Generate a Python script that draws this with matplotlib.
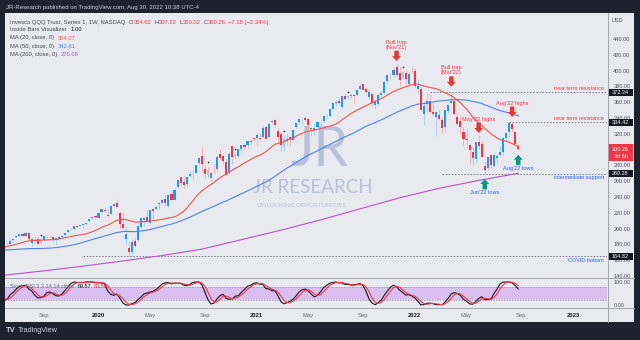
import numpy as np
import pandas as pd
import matplotlib
matplotlib.use("Agg")
import matplotlib.pyplot as plt
import matplotlib.dates as mdates
from matplotlib import transforms
from matplotlib.patches import Rectangle
from matplotlib.lines import Line2D

plt.rcParams["font.family"] = ["Liberation Sans", "DejaVu Sans"]

# weekly QQQ bars, first bar = week of 2019-06-03, last = week of 2022-08-29
first_week = "2019-06-03"
opens = [
    172.6, 181.0, 180.5, 185.0, 189.0, 190.2, 193.6, 191.0, 194.5, 181.4,
    184.7, 187.0, 182.1, 185.0, 190.4, 190.2, 190.0, 187.4, 187.0, 189.6,
    191.3, 195.1, 198.9, 199.2, 203.3, 203.2, 204.6, 205.6, 209.0, 212.9,
    215.7,
    213.0, 220.9, 224.1, 216.8, 218.7, 228.5, 233.0, 220.0, 206.3, 187.0,
    175.4, 170.6, 183.8, 185.3, 202.4, 211.4, 215.1, 207.7, 224.8, 225.3,
    231.6, 231.8, 237.3, 228.6, 243.6, 236.3, 252.8, 264.8, 259.2, 256.6,
    266.3, 269.8, 271.0, 283.0, 291.5, 276.0, 273.7, 264.0, 273.7, 275.5,
    294.3, 291.6, 283.7, 271.5, 304.7, 292.6, 292.4, 301.1, 305.3, 305.6,
    310.0, 314.4,
    315.1, 314.4, 316.1, 329.0, 316.0, 334.4, 337.0, 323.0, 320.3, 302.7,
    311.0, 315.4, 312.4, 328.5, 335.5, 338.5, 339.9, 339.3, 327.3, 325.2,
    329.0, 335.6, 336.0, 342.2, 342.5, 351.4, 359.5, 361.0, 353.4, 367.7,
    366.4, 368.0, 369.2, 369.2, 377.0, 382.6, 377.3, 366.0, 371.0, 357.0,
    358.0, 368.7, 372.0, 387.0, 394.5, 394.5, 404.0, 397.5, 390.4, 397.0,
    382.6, 398.5,
    400.0, 376.1, 377.0, 345.0, 357.6, 361.0, 347.0, 341.5, 343.5, 338.0,
    328.7, 349.2, 359.2, 361.0, 341.5, 336.0, 322.0, 312.3, 306.0, 297.0,
    288.5, 310.0, 307.0, 279.0, 277.0, 293.0, 279.0, 290.0, 293.5, 297.0,
    314.5, 322.0, 332.0, 322.0, 304.62,
]
highs = [
    180.8, 182.7, 186.4, 186.8, 191.1, 193.8, 194.0, 195.2, 195.0, 189.3,
    190.2, 190.3, 187.6, 191.0, 192.1, 192.2, 190.6, 189.8, 191.3, 192.3,
    195.0, 198.3, 200.3, 203.3, 203.5, 205.1, 206.0, 208.3, 212.2, 215.5,
    216.2,
    220.4, 224.6, 227.4, 225.2, 229.0, 231.6, 237.5, 221.8, 219.2, 203.6,
    184.1, 187.0, 188.0, 204.5, 213.6, 214.4, 223.0, 224.0, 226.3, 229.1,
    232.2, 237.0, 243.6, 244.0, 248.3, 251.0, 263.1, 266.4, 266.5, 266.5,
    273.5, 273.8, 281.0, 290.3, 303.5, 280.0, 279.3, 271.2, 281.6, 292.0,
    300.9, 293.7, 288.2, 297.0, 304.8, 296.0, 300.7, 306.1, 308.9, 311.4,
    313.5, 316.2,
    320.7, 321.2, 330.4, 331.7, 333.1, 336.9, 338.2, 327.8, 321.2, 318.6,
    320.7, 317.3, 325.6, 334.3, 339.2, 339.7, 342.8, 339.5, 328.0, 332.6,
    335.7, 337.2, 342.0, 345.5, 351.1, 358.9, 362.5, 365.0, 368.2, 369.9,
    368.2, 369.6, 370.5, 376.1, 382.8, 382.7, 378.9, 377.2, 371.5, 362.7,
    368.9, 374.6, 386.3, 396.1, 396.6, 404.2, 408.71, 405.7, 399.6, 400.4,
    398.5, 404.0,
    403.4, 390.0, 378.9, 361.2, 371.1, 369.4, 358.0, 348.5, 352.0, 341.0,
    350.5, 358.3, 372.34, 365.7, 346.0, 343.8, 328.7, 327.3, 307.5, 303.2,
    309.2, 317.9, 311.4, 285.0, 291.2, 294.0, 295.0, 295.0, 305.0, 315.4,
    322.4, 333.5, 334.42, 323.8, 307.22,
]
lows = [
    168.1, 178.8, 180.3, 182.9, 188.3, 189.4, 190.1, 190.8, 185.1, 178.1,
    181.8, 179.9, 180.5, 184.1, 188.6, 189.0, 184.8, 181.1, 185.0, 189.0,
    190.2, 194.7, 198.1, 198.6, 200.5, 202.9, 199.6, 204.1, 208.7, 212.6,
    211.7,
    212.7, 219.7, 221.1, 215.2, 218.1, 227.8, 227.0, 199.5, 198.0, 180.2,
    164.82, 166.3, 176.7, 184.8, 200.6, 203.6, 209.0, 206.7, 212.3, 224.2,
    225.1, 230.9, 228.5, 227.1, 236.0, 235.8, 251.6, 252.5, 251.0, 253.2,
    265.0, 262.2, 270.4, 280.7, 272.0, 263.7, 265.6, 259.6, 269.7, 273.3,
    287.0, 282.4, 267.6, 269.2, 281.2, 288.7, 289.0, 297.4, 298.0, 302.6,
    306.3, 310.3,
    305.6, 312.7, 315.5, 312.8, 315.6, 331.9, 328.3, 309.5, 298.0, 298.2,
    305.7, 305.3, 310.5, 327.5, 332.0, 331.0, 336.0, 323.5, 317.4, 317.5,
    328.4, 329.6, 334.2, 339.0, 341.4, 350.8, 354.6, 357.8, 352.0, 362.5,
    364.0, 365.8, 359.1, 368.8, 376.3, 376.0, 372.0, 364.0, 354.6, 351.2,
    356.2, 366.0, 371.0, 384.6, 388.8, 392.0, 391.0, 380.0, 389.0, 381.0,
    380.0, 396.4,
    378.4, 371.8, 349.5, 331.0, 349.0, 346.5, 342.0, 317.4, 337.2, 321.5,
    322.6, 346.0, 359.0, 344.0, 331.5, 320.3, 306.0, 304.0, 281.3, 279.0,
    283.0, 301.0, 290.4, 269.28, 274.4, 277.0, 277.5, 283.0, 291.5, 292.5,
    310.9, 315.4, 322.8, 307.2, 300.02,
]
closes = [
    180.1, 180.4, 184.9, 186.7, 191.0, 193.3, 190.5, 194.6, 186.9, 186.3,
    185.0, 180.5, 186.9, 190.2, 190.8, 190.1, 187.0, 187.7, 190.0, 190.8,
    194.6, 198.1, 199.8, 203.2, 202.4, 205.1, 205.4, 207.6, 212.0, 215.3,
    214.2,
    220.0, 224.3, 222.0, 216.2, 228.1, 231.2, 227.7, 205.6, 200.7, 193.0,
    170.7, 183.1, 178.1, 203.0, 213.6, 212.8, 209.0, 223.7, 222.2, 227.4,
    232.0, 236.6, 231.9, 242.5, 236.0, 249.0, 262.1, 257.9, 255.6, 265.8,
    268.6, 269.9, 280.8, 290.0, 282.4, 269.4, 267.4, 270.7, 273.6, 290.8,
    290.0, 285.5, 269.4, 294.8, 291.0, 291.4, 300.5, 306.0, 302.7, 310.4,
    311.5, 313.7,
    319.0, 313.4, 327.6, 314.0, 333.0, 336.2, 331.2, 315.6, 305.9, 313.0,
    313.4, 313.8, 324.9, 334.2, 339.0, 338.9, 337.2, 330.6, 326.7, 327.0,
    334.5, 336.2, 342.0, 342.5, 351.0, 358.9, 360.3, 358.6, 368.0, 364.6,
    368.0, 369.5, 367.5, 376.0, 381.1, 376.0, 373.0, 372.8, 359.4, 360.7,
    368.6, 371.2, 386.1, 394.2, 394.2, 400.9, 393.9, 388.0, 398.0, 388.8,
    395.6, 397.9,
    380.0, 380.1, 350.7, 354.6, 361.2, 347.1, 345.1, 347.2, 338.4, 327.3,
    350.3, 357.0, 361.9, 345.0, 332.9, 329.0, 313.0, 313.9, 300.1, 289.5,
    309.0, 304.6, 291.0, 274.6, 291.0, 280.4, 293.1, 292.5, 297.2, 315.1,
    320.6, 333.1, 326.0, 307.44, 300.26,
]
# closes of the 50 weeks before the first bar, warm-up for the MAs and Stoch RSI
prior_closes = [
    175.6, 171.7, 174.7, 178.6, 178.3, 176.0, 178.7, 180.2, 178.4, 180.9,
    185.6, 180.4, 182.5, 182.8, 185.8, 179.9, 172.8, 170.6, 162.6, 166.5,
    167.7, 163.9, 155.9, 166.1, 159.7, 157.6, 145.2, 151.7, 153.5, 158.6,
    163.4, 162.6, 165.9, 166.6, 170.2, 172.3, 173.0, 168.5, 174.6, 174.4,
    177.6, 181.0, 182.9, 185.5, 189.5, 187.9, 184.0, 182.0, 179.1, 172.5,
]

# 200-week MA (needs years of history), sampled every quarter
ma200_dates = ["2019-06-03", "2019-09-02", "2019-12-02", "2020-03-02",
               "2020-06-01", "2020-08-31", "2020-11-30", "2021-03-01",
               "2021-05-31", "2021-08-30", "2021-11-29", "2022-02-28",
               "2022-05-30", "2022-08-29"]
ma200_vals = [141.0, 146.5, 152.5, 159.0, 166.0, 174.0, 186.0, 198.0,
              211.0, 225.0, 239.0, 251.0, 261.0, 270.08]

levels = [372.34, 334.42, 269.28, 164.82]
level_starts = ["2022-02-07", "2022-08-08", "2022-03-07", "2019-12-02"]
level_labels = ["near term resistance", "near term resistance",
                "intermediate support", "COVID bottom"]

note_dates = ["2021-11-22", "2022-03-28", "2022-05-30", "2022-08-15",
              "2022-08-29", "2022-06-13"]
note_prices = [412.0, 379.6, 321.0, 341.3, 293.5, 262.8]
note_texts = ["Bull trap\n(Nov'21)", "Bull trap\n(Mar'22)", "May'22 highs",
              "Aug'22 highs", "Aug'22 lows", "Jun'22 lows"]
note_down = [True, True, True, True, False, False]

tick_dates = ["2019-09-02", "2020-01-06", "2020-05-04", "2020-09-07",
              "2021-01-04", "2021-05-03", "2021-09-06", "2022-01-03",
              "2022-05-02", "2022-09-05", "2023-01-02"]
tick_labels = ["Sep", "2020", "May", "Sep", "2021", "May", "Sep", "2022",
               "May", "Sep", "2023"]

# colours
DARK_BG = "#1e222d"
PANEL = "#e9eaef"
SEP = "#a3a6af"
TXT = "#434651"
UP, DOWN = "#2196f3", "#f23645"
UP_IN, DOWN_IN = "#9ccaf6", "#f6a8ae"
C_MA20, C_MA50, C_MA200 = "#f0524f", "#4f7ff3", "#b452cc"
RED_TXT, BLUE_TXT = "#f23645", "#2962ff"

W, H = 640, 340
fig = plt.figure(figsize=(6.4, 3.4), dpi=100)
fig.patch.set_facecolor(DARK_BG)
fig.add_artist(Rectangle((5 / W, 1 - 322 / H), 629 / W, 309 / H,
                         transform=fig.transFigure, facecolor=PANEL,
                         edgecolor="none", zorder=-1))

PX_PER_USD = 0.79
PX_PER_DAY = 0.4345
ax = fig.add_axes([5 / W, 1 - 278 / H, 602 / W, 265 / H])
ax_st = fig.add_axes([5 / W, 1 - 308 / H, 602 / W, 30 / H], sharex=ax)
for a in (ax, ax_st):
    a.set_facecolor("none")
    for s in a.spines.values():
        s.set_visible(False)

x_ref = mdates.date2num(pd.Timestamp("2020-01-06"))
x0 = x_ref - (98.5 - 5) / PX_PER_DAY
x1 = x0 + 602 / PX_PER_DAY
ax.set_xlim(x0, x1)
ax.set_ylim(440 - (278 - 39) / PX_PER_USD, 440 + (39 - 13) / PX_PER_USD)
ax_st.set_ylim(-3 * 100 / 23, 100 + 4 * 100 / 23)

# candles
o, h, l, c = (np.array(v, dtype=float) for v in (opens, highs, lows, closes))
n = len(c)
xd = mdates.date2num(pd.date_range(first_week, periods=n, freq="W-MON"))
inside = np.zeros(n, dtype=bool)
inside[1:] = (h[1:] < h[:-1]) & (l[1:] > l[:-1])
rising = c >= o
body_col = np.where(rising, np.where(inside, UP_IN, UP),
                    np.where(inside, DOWN_IN, DOWN))
wick_col = np.where(rising, UP_IN, DOWN_IN)
ax.vlines(xd, l, h, colors=wick_col, lw=0.6, zorder=2)
ax.bar(xd, np.maximum(np.abs(c - o), 0.7), bottom=np.minimum(o, c),
       width=4.8, color=body_col, linewidth=0, zorder=3)
ax.scatter(xd[inside], h[inside] + 4.5, s=1.2, color="#131722",
           linewidths=0, zorder=4)

# moving averages
all_c = pd.Series(prior_closes + closes, dtype=float)
npr = len(prior_closes)
ma20 = all_c.rolling(20).mean().to_numpy()[npr:]
ma50 = all_c.rolling(50).mean().to_numpy()[npr:]
ax.plot(xd, ma20, color=C_MA20, lw=0.8, zorder=4)
ax.plot(xd, ma50, color=C_MA50, lw=0.8, zorder=4)
ax.plot(mdates.date2num(pd.to_datetime(ma200_dates)), ma200_vals,
        color=C_MA200, lw=0.8, zorder=4)

# support / resistance levels
for p, start, lab in zip(levels, level_starts, level_labels):
    xs = mdates.date2num(pd.Timestamp(start))
    ax.hlines(p, xs, x1, colors="#7b7e89", lw=0.7,
              linestyles=(0, (1.6, 1.6)), zorder=2)
    above = "resistance" in lab
    ax.annotate(lab, xy=(1, p), xycoords=("axes fraction", "data"),
                xytext=(-2.2, 2.6 if above else -2.9), textcoords="offset points",
                ha="right", va="center", fontsize=4.0,
                color=RED_TXT if above else BLUE_TXT)

# arrows with notes
for d, p, txt, down in zip(note_dates, note_prices, note_texts, note_down):
    xv = mdates.date2num(pd.Timestamp(d))
    col = "#e53935" if down else "#089981"
    sgn = 1 if down else -1
    ax.annotate("", xy=(xv, p), xytext=(0, 7.5 * sgn), textcoords="offset points",
                arrowprops=dict(arrowstyle="simple,head_length=0.45,head_width=0.8,tail_width=0.4",
                                mutation_scale=8, color=col, lw=0,
                                shrinkA=0, shrinkB=0), zorder=6)
    ax.annotate(txt, xy=(xv, p), xytext=(0, 8.2 * sgn), textcoords="offset points",
                ha="center", va="bottom" if down else "top", fontsize=4.1,
                linespacing=1.0, color=RED_TXT if down else BLUE_TXT, zorder=6)

# watermark
wm = "#b9c1d8"
ax.text(319 / W, 1 - 150 / H, "JR", transform=fig.transFigure, fontsize=40,
        family="Lato", weight="normal", color=wm, ha="center", va="center", zorder=0.5)
ax.text(253 / W, 1 - 187 / H, "JR RESEARCH", transform=fig.transFigure,
        fontsize=13.5, family="Lato", color=wm, ha="left", va="center", zorder=0.5)
ax.text(257 / W, 1 - 206 / H, "UNLOCKING OPPORTUNITIES", transform=fig.transFigure,
        fontsize=4.6, family="Lato", color=wm, ha="left", va="center", zorder=0.5)

# price scale
ax.yaxis.tick_right()
ticks = np.arange(140, 441, 20)
ax.set_yticks(ticks)
ax.set_yticklabels([f"{v:.2f}" for v in ticks])
ax.tick_params(axis="y", length=0, pad=4.5, labelsize=4.0, labelcolor="#50535e")
ax.tick_params(axis="x", bottom=False, labelbottom=False)
ax_st.yaxis.tick_right()
ax_st.set_yticks([0, 100])
ax_st.set_yticklabels(["0.00", "100.00"])
ax_st.tick_params(axis="y", length=0, pad=4.5, labelsize=4.0, labelcolor="#50535e")
ax_st.tick_params(axis="x", bottom=False, labelbottom=False)
fig.text(612 / W, 1 - 20.5 / H, "USD", fontsize=4.0, color="#50535e", va="center")

blend = transforms.blended_transform_factory(fig.transFigure, ax.transData)


def price_tag(p, fc, lines, top_px=3.5, bot_px=3.5):
    ax.add_patch(Rectangle((608 / W, p - bot_px / PX_PER_USD), 25 / W,
                           (top_px + bot_px) / PX_PER_USD, transform=blend,
                           facecolor=fc, edgecolor="none", clip_on=False, zorder=8))
    for k, s in enumerate(lines):
        ax.text(620.5 / W, p - k * 6.8 / PX_PER_USD, s, transform=blend,
                ha="center", va="center", fontsize=4.0, color="white",
                clip_on=False, zorder=9)


for p in levels:
    price_tag(p, "#131722", [f"{p:.2f}"])
price_tag(c[-1], "#f23645", [f"{c[-1]:.2f}", "3d 6h"], top_px=5.0, bot_px=11.5)

# Stoch RSI 3 3 14 14
delta = all_c.diff()
gain = delta.clip(lower=0).ewm(alpha=1 / 14, adjust=False).mean()
loss = (-delta.clip(upper=0)).ewm(alpha=1 / 14, adjust=False).mean()
rsi = 100 - 100 / (1 + gain / loss)
lo, hi = rsi.rolling(14).min(), rsi.rolling(14).max()
stoch = 100 * (rsi - lo) / (hi - lo)
k_line = stoch.rolling(3).mean()
d_line = k_line.rolling(3).mean()
k_vis = k_line.to_numpy()[npr:]
d_vis = d_line.to_numpy()[npr:]
ax_st.axhspan(20, 80, color="#dbbff1", lw=0, zorder=0)
for lev in (20, 80):
    ax_st.axhline(lev, color="#9598a1", lw=0.6, ls=(0, (1.6, 1.6)), zorder=1)
ax_st.plot(xd, k_vis, color="#131722", lw=0.8, zorder=3)
ax_st.plot(xd, d_vis, color="#f23645", lw=0.8, zorder=3)

# time scale
for d, lab in zip(tick_dates, tick_labels):
    yr = lab.isdigit()
    ax_st.annotate(lab, xy=(mdates.date2num(pd.Timestamp(d)), 0),
                   xycoords=("data", "axes fraction"), xytext=(0, -5.2),
                   textcoords="offset points", ha="center", va="center",
                   fontsize=4.2, color="#131722" if yr else "#6a6d78",
                   weight="bold" if yr else "normal")

# frame lines
for (xa, ya, xb, yb) in [(607.5, 13, 607.5, 322), (5, 278, 634, 278), (5, 308, 634, 308)]:
    fig.add_artist(Line2D([xa / W, xb / W], [1 - ya / H, 1 - yb / H],
                          transform=fig.transFigure, color=SEP, lw=0.7))

# header, legends, footer
fig.text(6 / W, 1 - 7 / H, "JR-Research published on TradingView.com, Aug 30, 2022 10:38 UTC-4",
         color="#d1d4dc", fontsize=4.3, va="center")
renderer = fig.canvas.get_renderer()


def text_run(x, y, pieces, size=4.2):
    for s, col, gap in pieces:
        t = fig.text(x / W, 1 - y / H, s, color=col, fontsize=size, va="center", ha="left")
        x += t.get_window_extent(renderer).width + gap


chg = c[-1] - c[-2]
text_run(9.5, 22.3, [("Invesco QQQ Trust, Series 1, 1W, NASDAQ", TXT, 4),
                     ("O", TXT, 0), (f"{o[-1]:.2f}", RED_TXT, 3),
                     ("H", TXT, 0), (f"{h[-1]:.2f}", RED_TXT, 3),
                     ("L", TXT, 0), (f"{l[-1]:.2f}", RED_TXT, 3),
                     ("C", TXT, 0), (f"{c[-1]:.2f}", RED_TXT, 3),
                     (f"\u2212{abs(chg):.2f} (\u2212{abs(chg) / c[-2] * 100:.2f}%)", RED_TXT, 0)])
text_run(9.5, 29.6, [("Inside Bars Visualizer", TXT, 4), ("1.00", "#131722", 0)])
text_run(9.5, 38.0, [("MA (20, close, 0)", TXT, 4), (f"{ma20[-1]:.2f}", C_MA20, 0)])
text_run(9.5, 46.5, [("MA (50, close, 0)", TXT, 4), (f"{ma50[-1]:.2f}", C_MA50, 0)])
text_run(9.5, 54.8, [("MA (200, close, 0)", TXT, 4), (f"{ma200_vals[-1]:.2f}", C_MA200, 0)])
text_run(9.5, 286.0, [("Stoch RSI 3 3 14 14 close", "#6a6d78", 4),
                      (f"{k_vis[-1]:.2f}", "#131722", 3),
                      (f"{d_vis[-1]:.2f}", RED_TXT, 0)], size=4.0)

fig.text(6 / W, 1 - 331 / H, "TV", color="#d1d4dc", fontsize=5.5, weight="bold", va="center")
fig.text(17.5 / W, 1 - 331 / H, "TradingView", color="#d1d4dc", fontsize=5.2, va="center")

fig.savefig("out.png", dpi=100, facecolor=fig.get_facecolor())
